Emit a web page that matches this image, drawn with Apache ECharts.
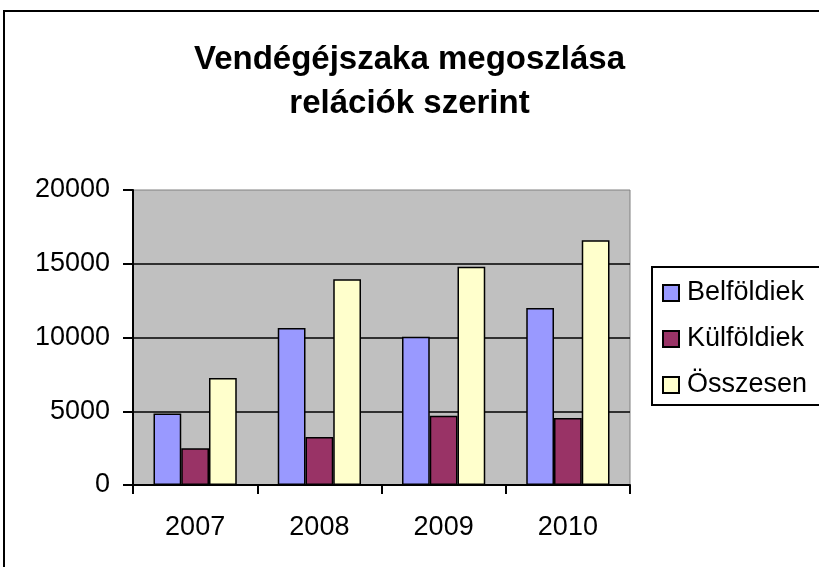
<!DOCTYPE html>
<html>
<head>
<meta charset="utf-8">
<script src="https://cdn.jsdelivr.net/npm/echarts@6/dist/echarts.min.js"></script>
<style>
  html, body { margin: 0; padding: 0; background: #fff; }
  #chart { width: 819px; height: 567px; }
</style>
</head>
<body>
<div id="chart"></div>
<script>
var years = ['2007', '2008', '2009', '2010'];
var belfoldiek = [4850, 10650, 10050, 12000];
var kulfoldiek = [2500, 3250, 4700, 4550];
var osszesen = [7250, 13950, 14800, 16600];

var chart = echarts.init(document.getElementById('chart'));
var font = 'Liberation Sans, Arial, sans-serif';

var option = {
  animation: false,
  backgroundColor: '#fff',
  // outer frame and legend frame (both run past the picture's right edge)
  graphic: [{
    type: 'rect',
    shape: { x: 4, y: 11, width: 1000, height: 1000 },
    style: { fill: 'none', stroke: '#000', lineWidth: 2 },
    silent: true
  }, {
    type: 'rect',
    shape: { x: 652, y: 267, width: 300, height: 138 },
    style: { fill: 'none', stroke: '#000', lineWidth: 2 },
    silent: true
  }],
  title: {
    text: 'Vendégéjszaka megoszlása\nrelációk szerint',
    left: 'center',
    top: 33,
    textStyle: { fontFamily: font, fontSize: 33, fontWeight: 'bold', color: '#000', lineHeight: 44 }
  },
  legend: {
    orient: 'vertical',
    left: 652,
    top: 267,
    padding: [11, 0, 5, 10],
    itemWidth: 16,
    itemHeight: 16,
    itemGap: 16,
    icon: 'rect',
    textStyle: { fontFamily: font, fontSize: 27, color: '#000', lineHeight: 30, padding: [0, 0, 0, 3] },
    data: ['Belföldiek', 'Külföldiek', 'Összesen']
  },
  grid: {
    left: 133, right: 189, top: 190, bottom: 82,
    show: true,
    backgroundColor: '#C0C0C0',
    borderColor: '#808080',
    borderWidth: 1
  },
  xAxis: {
    type: 'category',
    data: years,
    axisLine: { lineStyle: { color: '#000', width: 2 } },
    axisTick: { show: true, length: 9, lineStyle: { color: '#000', width: 2 } },
    axisLabel: { fontFamily: font, fontSize: 27, color: '#000', margin: 29 },
    splitLine: { show: false }
  },
  yAxis: {
    type: 'value',
    min: 0, max: 20000, interval: 5000,
    axisLine: { show: true, lineStyle: { color: '#000', width: 2 } },
    axisTick: { show: true, length: 10, lineStyle: { color: '#000', width: 2 } },
    axisLabel: {
      fontFamily: font, fontSize: 27, color: '#000', margin: 23,
      formatter: function (v) { return String(v); }
    },
    splitLine: { show: true, showMaxLine: false, lineStyle: { color: '#000', width: 1.5 } }
  },
  series: [{
    name: 'Belföldiek',
    type: 'bar',
    data: belfoldiek,
    barGap: 0,
    barCategoryGap: '33%',
    itemStyle: { color: '#9999FF', borderColor: '#000', borderWidth: 1.5 }
  }, {
    name: 'Külföldiek',
    type: 'bar',
    data: kulfoldiek,
    itemStyle: { color: '#993366', borderColor: '#000', borderWidth: 1.5 }
  }, {
    name: 'Összesen',
    type: 'bar',
    data: osszesen,
    itemStyle: { color: '#FFFFCC', borderColor: '#000', borderWidth: 1.5 }
  }]
};
chart.setOption(option);
</script>
</body>
</html>
